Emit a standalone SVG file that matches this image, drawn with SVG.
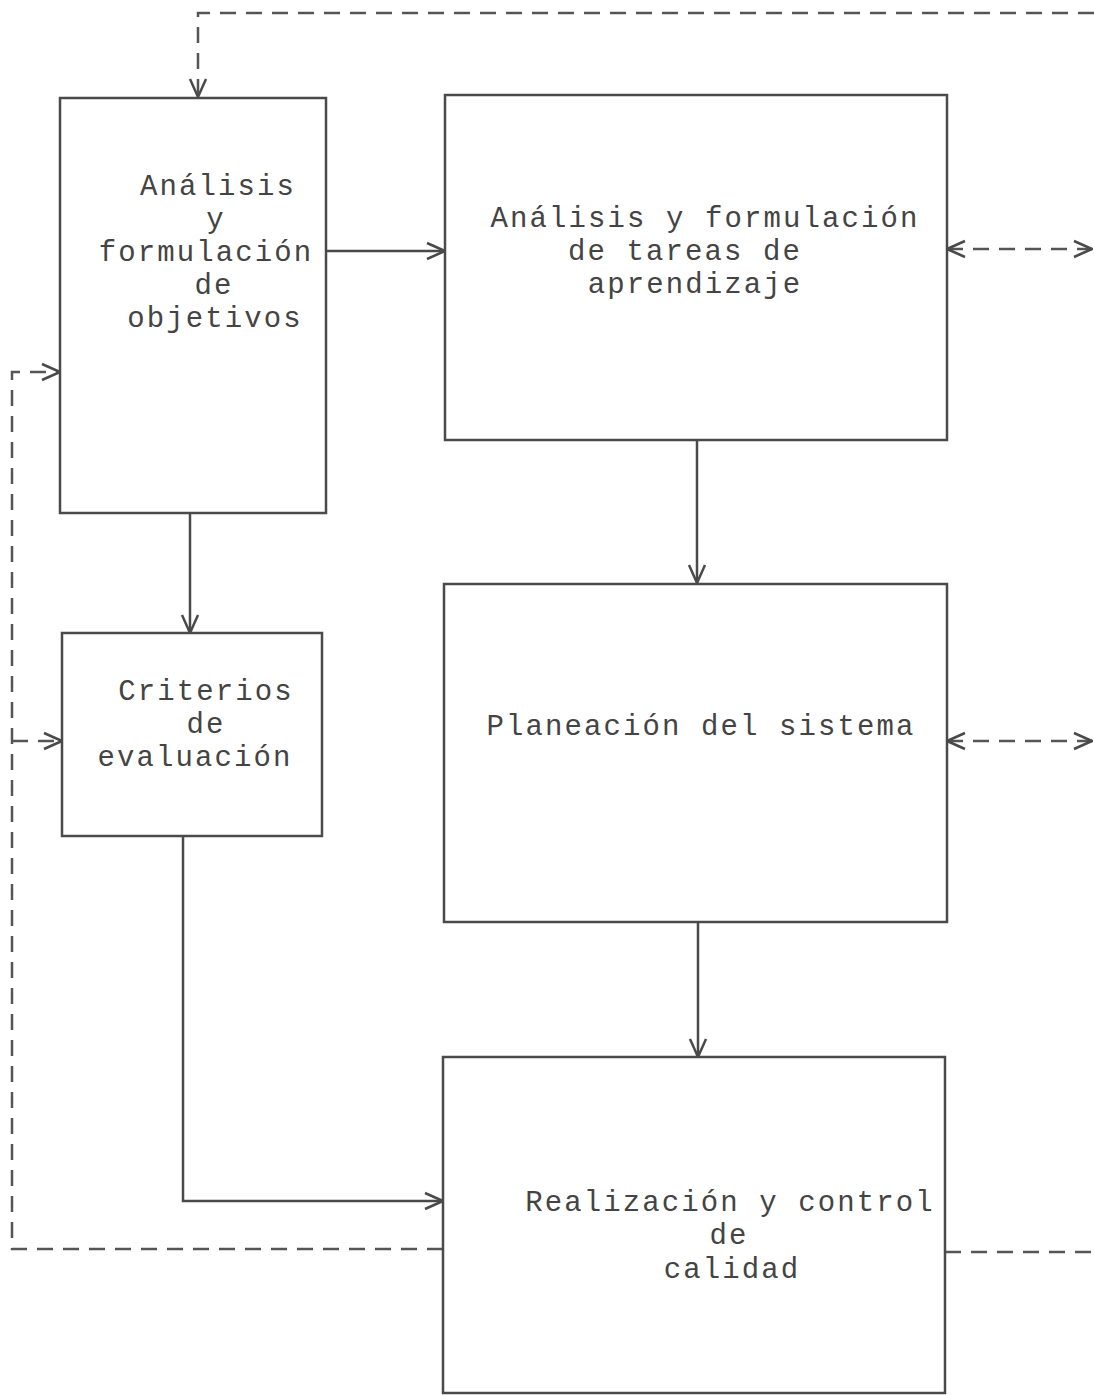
<svg xmlns="http://www.w3.org/2000/svg" width="1094" height="1395" viewBox="0 0 1094 1395">
<style>
.box{fill:none;stroke:#4a4a4a;stroke-width:2.5}
.ln{fill:none;stroke:#4a4a4a;stroke-width:2.5}
.dsh{fill:none;stroke:#555;stroke-width:2.5;stroke-dasharray:16 10}
.t{font-family:"Liberation Mono","Courier New",monospace;font-size:29px;letter-spacing:2.1px;fill:#444;text-anchor:middle}
</style>
<defs>
<marker id="ah" viewBox="0 0 20 20" refX="19" refY="10" markerWidth="20" markerHeight="20" markerUnits="userSpaceOnUse" orient="auto-start-reverse">
<polyline points="1,2 19,10 1,18" fill="none" stroke="#4a4a4a" stroke-width="2.5"/>
</marker>
</defs>
<rect width="1094" height="1395" fill="#fff"/>
<g id="connectors">
<line class="ln" x1="326" y1="251" x2="445" y2="251" marker-end="url(#ah)"/>
<line class="ln" x1="697" y1="440" x2="697" y2="583" marker-end="url(#ah)"/>
<line class="ln" x1="190" y1="513" x2="190" y2="633" marker-end="url(#ah)"/>
<line class="ln" x1="698" y1="922" x2="698" y2="1057" marker-end="url(#ah)"/>
<polyline class="ln" points="183,836 183,1201 443,1201" marker-end="url(#ah)"/>
<polyline class="dsh" points="443,1249 12,1249 12,372 60,372" marker-end="url(#ah)"/>
<line class="dsh" x1="12" y1="741" x2="62" y2="741" marker-end="url(#ah)"/>
<polyline class="dsh" points="1094,13 198,13 198,97" marker-end="url(#ah)"/>
<line class="dsh" x1="947" y1="249" x2="1092" y2="249" marker-start="url(#ah)" marker-end="url(#ah)"/>
<line class="dsh" x1="947" y1="741" x2="1092" y2="741" marker-start="url(#ah)" marker-end="url(#ah)"/>
<line class="dsh" x1="945" y1="1252" x2="1094" y2="1252"/>
</g>
<g id="n1">
<rect class="box" x="60" y="98" width="266" height="415"/>
<text class="t" x="218" y="195">Análisis</text>
<text class="t" x="216" y="228">y</text>
<text class="t" x="206" y="261">formulación</text>
<text class="t" x="214" y="294">de</text>
<text class="t" x="215" y="327">objetivos</text>
</g>
<g id="n2">
<rect class="box" x="445" y="95" width="502" height="345"/>
<text class="t" x="705" y="227">Análisis y formulación</text>
<text class="t" x="685" y="260">de tareas de</text>
<text class="t" x="695" y="293">aprendizaje</text>
</g>
<g id="n3">
<rect class="box" x="62" y="633" width="260" height="203"/>
<text class="t" x="206" y="700">Criterios</text>
<text class="t" x="206" y="733">de</text>
<text class="t" x="195" y="766">evaluación</text>
</g>
<g id="n4">
<rect class="box" x="444" y="584" width="503" height="338"/>
<text class="t" x="701" y="735">Planeación del sistema</text>
</g>
<g id="n5">
<rect class="box" x="443" y="1057" width="502" height="336"/>
<text class="t" x="730" y="1211">Realización y control</text>
<text class="t" x="729" y="1244">de</text>
<text class="t" x="732" y="1278">calidad</text>
</g>
</svg>
